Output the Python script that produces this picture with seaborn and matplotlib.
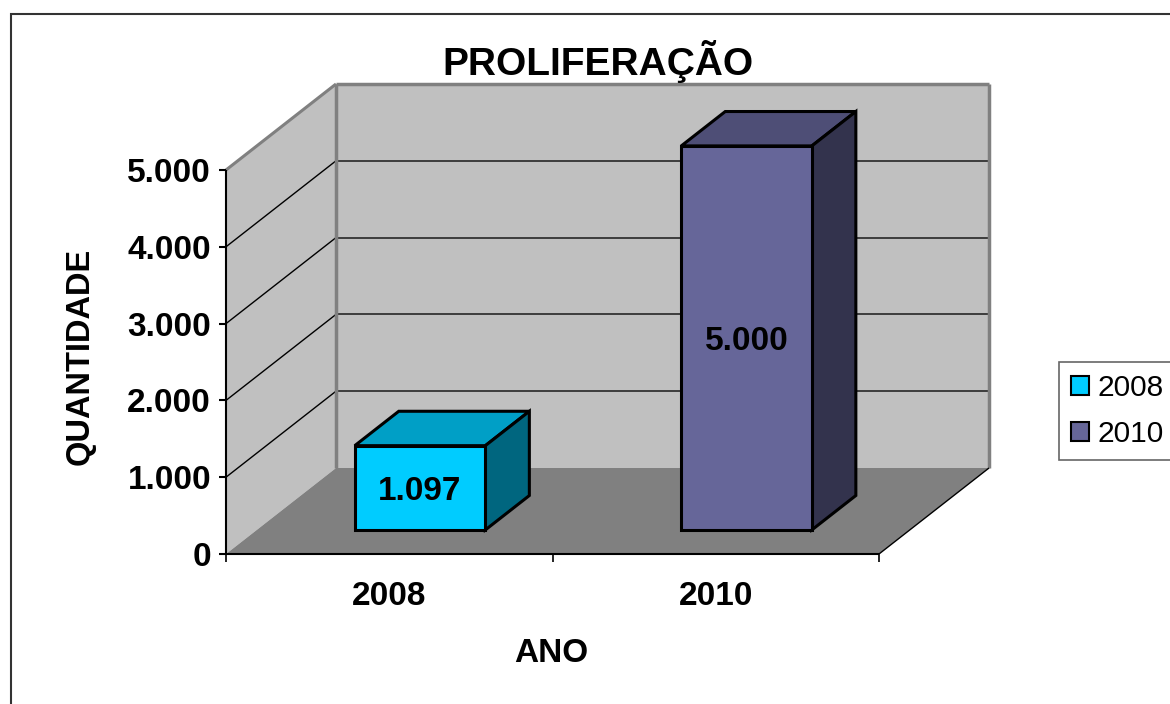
import matplotlib
matplotlib.use("Agg")
import matplotlib.pyplot as plt
from matplotlib.patches import Polygon, Rectangle, Patch
import seaborn as sns
import pandas as pd

# dados
anos = ["2008", "2010"]
quantidade = [1097, 5000]
rotulos = ["1.097", "5.000"]
yticks = [0, 1000, 2000, 3000, 4000, 5000]
ytick_labels = ["0", "1.000", "2.000", "3.000", "4.000", "5.000"]
cores_frente = ["#00ccff", "#666699"]
cores_topo = ["#009fc6", "#4e4e76"]
cores_lado = ["#00667f", "#33334d"]

sns.set_style("white")
plt.rcParams["font.family"] = ["Liberation Sans", "DejaVu Sans"]
plt.rcParams["text.color"] = "black"

W, H = 1170, 704
fig = plt.figure(figsize=(W / 100, H / 100), dpi=100)

# eixo: frente do "cubo" 3D
PX_X = 326.5            # px por categoria
PX_Y = 76.8 / 1000      # px por unidade
DX = 110 / PX_X         # profundidade total em x
DY = 86 / PX_Y          # profundidade total em y
YMAX = 5000
ax = fig.add_axes([226 / W, 1 - 554 / H, (989 - 226) / W, (554 - 84) / H])


def P(x, y, d):
    return (x + d * DX, y + d * DY)


def poly(pts, **kw):
    ax.add_patch(Polygon(pts, closed=True, **kw))


def line(a, b, **kw):
    ax.plot([a[0], b[0]], [a[1], b[1]], solid_capstyle="butt", **kw)


x0, x1 = -0.5, 1.5
# paredes e chao
poly([P(x0, 0, 0), P(x0, 0, 1), P(x0, YMAX, 1), P(x0, YMAX, 0)], fc="#c0c0c0", ec="none", zorder=0.5)
poly([P(x0, 0, 1), P(x1, 0, 1), P(x1, YMAX, 1), P(x0, YMAX, 1)], fc="#c0c0c0", ec="none", zorder=0.5)
poly([P(x0, 0, 0), P(x1, 0, 0), P(x1, 0, 1), P(x0, 0, 1)], fc="#808080", ec="none", zorder=0.5)

for v in yticks[1:-1]:
    line(P(x0, v, 0), P(x0, v, 1), color="black", lw=1, zorder=0.6)
    line(P(x0, v, 1), P(x1, v, 1), color="#333333", lw=1.3, zorder=0.6)

# bordas cinza das paredes
line(P(x0, YMAX, 0), P(x0, YMAX, 1), color="#808080", lw=2.2, zorder=0.7)
line(P(x0, YMAX, 1), P(x1, YMAX, 1), color="#808080", lw=2.5, zorder=0.7)
line(P(x0, 0, 1), P(x0, YMAX, 1), color="#808080", lw=2.5, zorder=0.7)
line(P(x1, 0, 1), P(x1, YMAX, 1), color="#808080", lw=2.5, zorder=0.7)
line(P(x1, 0, 0), P(x1, 0, 1), color="black", lw=1, zorder=0.7)

# barras (face frontal pelo seaborn)
df = pd.DataFrame({"ano": anos, "quantidade": quantidade})
sns.barplot(data=df, x="ano", y="quantidade", hue="ano", palette=cores_frente,
            saturation=1, width=0.4, legend=False, ax=ax,
            edgecolor="black", linewidth=2.2, zorder=3)

D0, BD = 0.28, 0.40
bars = sorted([p for p in ax.patches if isinstance(p, Rectangle)], key=lambda p: p.get_x())
for i, b in enumerate(bars):
    bx0 = b.get_x()
    bw = b.get_width()
    h = b.get_height()
    bx1 = bx0 + bw
    b.set_x(bx0 + D0 * DX)
    b.set_y(D0 * DY)
    b.set_zorder(3)
    poly([P(bx0, h, D0), P(bx1, h, D0), P(bx1, h, D0 + BD), P(bx0, h, D0 + BD)],
         fc=cores_topo[i], ec="black", lw=2.2, joinstyle="miter", zorder=2.5)
    poly([P(bx1, 0, D0), P(bx1, 0, D0 + BD), P(bx1, h, D0 + BD), P(bx1, h, D0)],
         fc=cores_lado[i], ec="black", lw=2.2, joinstyle="miter", zorder=2.5)
    cx, cy = P(bx0 + bw / 2, h / 2, D0)
    ax.text(cx, cy - 12 / PX_Y, rotulos[i], ha="center", va="baseline",
            fontsize=24, fontweight="bold", zorder=4)

# eixos desenhados a mao
line(P(x0, 0, 0), P(x0, YMAX, 0), color="black", lw=1.5, zorder=1)
line(P(x0, 0, 0), P(x1, 0, 0), color="black", lw=1.5, zorder=1)
for v, lab in zip(yticks, ytick_labels):
    line((x0 - 7 / PX_X, v), (x0, v), color="black", lw=1.5, zorder=1)
    ax.text(x0 - 15 / PX_X, v - 12 / PX_Y, lab, ha="right", va="baseline",
            fontsize=24, fontweight="bold", clip_on=False)
for xt in [-0.5, 0.5, 1.5]:
    line((xt, 0), (xt, -8 / PX_Y), color="black", lw=1.2, zorder=1)
for i, lab in enumerate(anos):
    ax.text(i, -(605 - 554) / PX_Y, lab, ha="center", va="baseline",
            fontsize=24, fontweight="bold", clip_on=False)

for ln in ax.lines:
    ln.set_clip_on(False)

ax.set_xlim(x0, x1 + DX)
ax.set_ylim(0, YMAX + DY)
ax.axis("off")

fig.text(598 / W, 1 - 75 / H, "PROLIFERAÇÃO", ha="center", va="baseline",
         fontsize=28, fontweight="bold")
fig.text(551 / W, 1 - 662 / H, "ANO", ha="center", va="baseline",
         fontsize=24, fontweight="bold")
fig.text(80.5 / W, 1 - 356 / H, "QUANTIDADE", ha="center", va="center",
         rotation=90, fontsize=23.5, fontweight="bold")

handles = [Patch(facecolor=c, edgecolor="black", linewidth=1.5) for c in cores_frente]
leg = fig.legend(handles, anos, loc="upper left", bbox_to_anchor=(1059 / W, 1 - 362 / H),
                 frameon=True, fancybox=False, edgecolor="#404040", fontsize=21.5,
                 handlelength=0.6, handleheight=0.6, handletextpad=0.3,
                 labelspacing=0.62, borderpad=0.4, borderaxespad=0)
leg.get_frame().set_linewidth(1.2)

fig.add_artist(Rectangle((11 / W, -0.05), 1.1, (1 - 14 / H) + 0.05, transform=fig.transFigure,
                         fill=False, edgecolor="#333333", lw=1.5))

fig.savefig("out.png", dpi=100)
